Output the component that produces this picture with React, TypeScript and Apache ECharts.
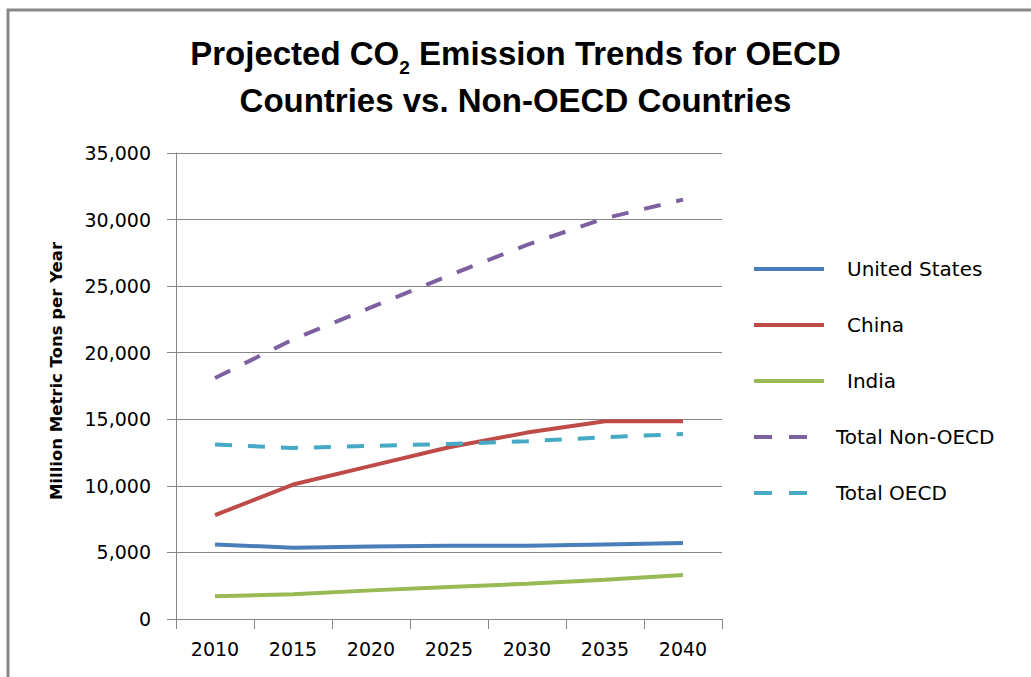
import React, { useEffect, useRef } from "react";
import * as echarts from "echarts";

const years = ["2010", "2015", "2020", "2025", "2030", "2035", "2040"];
const unitedStates = [5600, 5350, 5450, 5500, 5500, 5600, 5700];
const china = [7800, 10100, 11500, 12900, 14000, 14850, 14850];
const india = [1700, 1850, 2150, 2400, 2650, 2950, 3300];
const totalNonOECD = [18100, 21000, 23400, 25800, 28100, 30100, 31500];
const totalOECD = [13100, 12850, 13000, 13150, 13350, 13650, 13900];
const seriesNames = ["United States", "China", "India", "Total Non-OECD", "Total OECD"];

const FONT = "DejaVu Sans";

export default function App() {
  const ref = useRef<HTMLDivElement>(null);
  useEffect(() => {
    if (!ref.current) return;
    const chart = echarts.init(ref.current, null, { renderer: "svg" });
    const line = (name: string, data: number[], color: string, dashed: boolean) => ({
      name,
      type: "line",
      data,
      symbol: "none",
      lineStyle: { color, width: 4, type: dashed ? [17, 16] : "solid", cap: "butt" },
      itemStyle: { color },
    });
    chart.setOption({
      animation: false,
      backgroundColor: "#fff",
      title: {
        left: "center",
        top: 25,
        text: "{b|Projected CO}{s|2}{b| Emission Trends for OECD}\n{b|Countries vs. Non-OECD Countries}",
        textStyle: {
          rich: {
            b: { fontFamily: "Liberation Sans", fontWeight: "bold", fontSize: 33, lineHeight: 47, color: "#000" },
            s: { fontFamily: "Liberation Sans", fontWeight: "bold", fontSize: 19, lineHeight: 19, verticalAlign: "bottom", color: "#000" },
          },
        },
      },
      graphic: [
        {
          type: "rect",
          shape: { x: 8, y: 10, width: 1200, height: 900 },
          style: { fill: "none", stroke: "#888", lineWidth: 3 },
          silent: true,
        },
        {
          type: "text",
          x: 56,
          y: 371,
          rotation: Math.PI / 2,
          style: {
            text: "Million Metric Tons per Year",
            fontFamily: FONT,
            fontWeight: "bold",
            fontSize: 16.5,
            fill: "#000",
            align: "center",
            verticalAlign: "middle",
          },
        },
      ],
      legend: {
        orient: "vertical",
        left: 747,
        top: 254,
        itemWidth: 70,
        itemHeight: 20,
        itemGap: 36,
        itemStyle: { opacity: 0 },
        lineStyle: { width: 4 },
        formatter: (name: string) => (name.startsWith("Total") ? `{t|${name}}` : `{c|${name}}`),
        textStyle: {
          fontFamily: FONT,
          fontSize: 20,
          color: "#000",
          rich: {
            t: { fontFamily: FONT, fontSize: 20, lineHeight: 20, color: "#000", padding: [0, 0, 0, 7] },
            c: { fontFamily: FONT, fontSize: 20, lineHeight: 20, color: "#000", padding: [0, 0, 0, 18] },
          },
        },
        data: seriesNames.map((n) =>
          n.startsWith("Total") ? { name: n, lineStyle: { width: 4, type: [18, 17] } } : { name: n }
        ),
      },
      grid: { left: 176, right: 309, top: 153, bottom: 58, containLabel: false },
      xAxis: {
        type: "category",
        data: years,
        boundaryGap: true,
        axisLine: { lineStyle: { color: "#868686", width: 1 } },
        axisTick: { show: true, length: 10, interval: 0, lineStyle: { color: "#868686" } },
        axisLabel: { fontFamily: FONT, fontSize: 19, color: "#000", margin: 20 },
      },
      yAxis: {
        type: "value",
        min: 0,
        max: 35000,
        interval: 5000,
        axisLine: { show: true, lineStyle: { color: "#868686", width: 1 } },
        axisTick: { show: true, length: 9, lineStyle: { color: "#868686" } },
        splitLine: { show: true, lineStyle: { color: "#868686", width: 1 } },
        axisLabel: {
          fontFamily: FONT,
          fontSize: 19,
          color: "#000",
          margin: 25,
          formatter: (v: number) => v.toLocaleString("en-US"),
        },
      },
      series: [
        line(seriesNames[0], unitedStates, "#4a7ebb", false),
        line(seriesNames[1], china, "#be4b48", false),
        line(seriesNames[2], india, "#98b954", false),
        line(seriesNames[3], totalNonOECD, "#7d60a0", true),
        line(seriesNames[4], totalOECD, "#46aac5", true),
      ],
    });
    return () => chart.dispose();
  }, []);
  return (
    <div
      ref={ref}
      style={{ position: "fixed", left: 0, top: 0, width: 1031, height: 677 }}
    />
  );
}
